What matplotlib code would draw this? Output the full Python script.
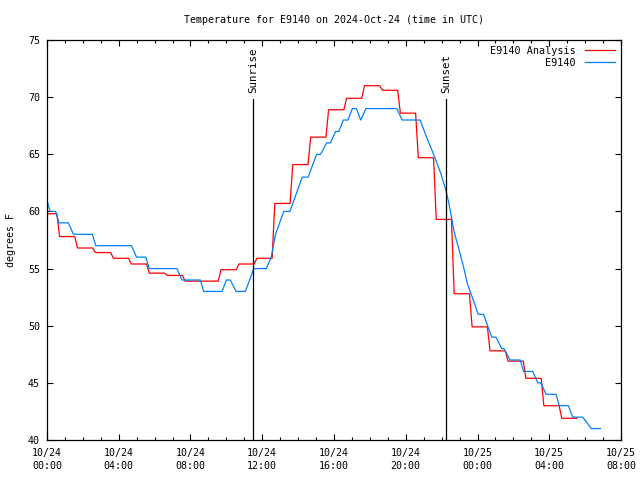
import numpy as np
import pandas as pd
import matplotlib
matplotlib.use('Agg')
import matplotlib.pyplot as plt
import matplotlib.dates as mdates

# ---- data (hours after 2024-10-24 00:00 UTC) ----
start = pd.Timestamp('2024-10-24 00:00')

# hourly analysis values (step line)
analysis_hours = list(range(30))
analysis_temp = [59.8, 57.8, 56.8, 56.4, 55.9, 55.4, 54.6, 54.4, 53.9, 53.9,
                 54.9, 55.4, 55.9, 60.7, 64.1, 66.5, 68.9, 69.9, 71.0, 70.6,
                 68.6, 64.7, 59.3, 52.8, 49.9, 47.8, 46.9, 45.4, 43.0, 41.9]

# observed station values
obs_hours = [0.0, 0.17, 0.48, 0.67, 1.19, 1.47, 2.53, 2.72, 4.71, 4.99,
             5.51, 5.70, 7.24, 7.52, 8.55, 8.73, 9.76, 10.0, 10.22, 10.54,
             11.06, 11.53, 12.23, 12.5, 12.74, 13.2, 13.54, 14.23, 14.56, 15.03,
             15.25, 15.59, 15.8, 16.09, 16.27, 16.52, 16.78, 17.02, 17.25, 17.49,
             17.78, 19.5, 19.8, 20.8, 21.21, 21.58, 21.96, 22.23, 22.42, 22.70,
             22.98, 23.26, 23.45, 23.73, 24.04, 24.34, 24.56, 24.80, 25.03, 25.35,
             25.47, 25.82, 26.38, 26.57, 27.08, 27.36, 27.54, 27.82, 28.38, 28.56,
             29.07, 29.31, 29.87, 30.34, 30.85]
obs_temp = [61, 60, 60, 59, 59, 58, 58, 57, 57, 56,
            56, 55, 55, 54, 54, 53, 53, 54, 54, 53,
            53, 55, 55, 56, 58, 60, 60, 63, 63, 65,
            65, 66, 66, 67, 67, 68, 68, 69, 69, 68,
            69, 69, 68, 68, 66.3, 64.9, 63.3, 61.9, 60.6, 58.2,
            56.6, 54.9, 53.6, 52.4, 51, 51, 50, 49, 49, 48,
            48, 47, 47, 46, 46, 45, 45, 44, 44, 43,
            43, 42, 42, 41, 41]

sunrise_hour = 11.48
sunset_hour = 22.24

# ---- build step line for analysis ----
step_x, step_y = [], []
for h, v in zip(analysis_hours, analysis_temp):
    step_x += [h - 0.3, h + 0.55]
    step_y += [v, v]
step_t = start + pd.to_timedelta(step_x, unit='h')
obs_t = start + pd.to_timedelta(obs_hours, unit='h')

mono = 'DejaVu Sans Mono'
plt.rcParams['font.family'] = mono
plt.rcParams['font.size'] = 7

fig = plt.figure(figsize=(6.4, 4.8), dpi=100)
ax = fig.add_axes([47/640, 40/480, 574/640, 400/480])

ax.plot(step_t, step_y, color='#ff0000', lw=0.9, label='E9140 Analysis')
ax.plot(obs_t, obs_temp, color='#0080ff', lw=0.9, label='E9140')

for hr, name in [(sunrise_hour, 'Sunrise'), (sunset_hour, 'Sunset')]:
    t = start + pd.Timedelta(hours=hr)
    ax.plot([t, t], [40, 69.8], color='black', lw=0.9)
    ax.text(t, 70.4, name, rotation=90, ha='center', va='bottom', fontsize=7.8)

ax.set_xlim(start, start + pd.Timedelta(hours=32))
ax.set_ylim(40, 75)
ax.set_yticks(np.arange(40, 76, 5))

ax.xaxis.set_major_locator(mdates.HourLocator(byhour=range(0, 24, 4)))
ax.xaxis.set_minor_locator(mdates.HourLocator())
ax.xaxis.set_major_formatter(mdates.DateFormatter('%m/%d\n%H:%M'))

ax.tick_params(which='both', direction='in', top=True, right=True, labelsize=7.2)
ax.tick_params(which='major', length=4, width=0.8, pad=5)
ax.tick_params(which='minor', length=2.5, width=0.8)
ax.tick_params(axis='x', which='major', pad=6)
for lbl in ax.get_xticklabels():
    lbl.set_linespacing(1.35)
for s in ax.spines.values():
    s.set_linewidth(0.9)

ax.set_title('Temperature for E9140 on 2024-Oct-24 (time in UTC)', fontsize=7.2, pad=12)
ax.set_ylabel('degrees F', fontsize=7.2, labelpad=9)

ax.legend(loc='upper right', frameon=False, markerfirst=False, fontsize=7.3,
          handlelength=3.0, handletextpad=0.9, borderaxespad=0.15, labelspacing=0.2)

fig.savefig('out.png', dpi=100)
